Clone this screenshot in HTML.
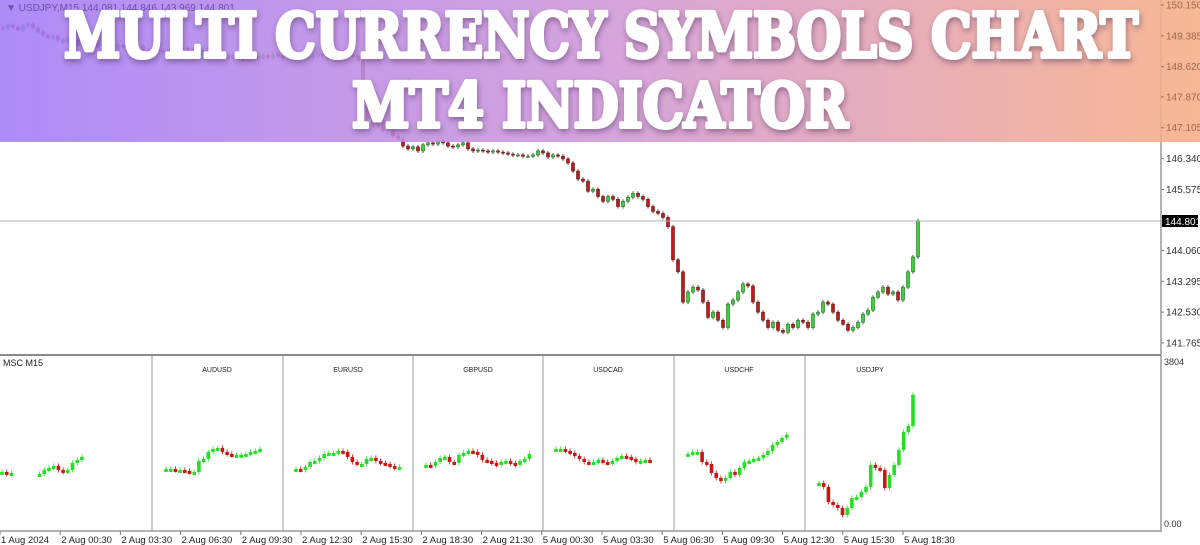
<!DOCTYPE html>
<html><head><meta charset="utf-8">
<style>
html,body{margin:0;padding:0;background:#fff;width:1200px;height:545px;overflow:hidden;font-family:"Liberation Sans",sans-serif}
svg{display:block}
</style></head>
<body>
<svg id="chart" width="1200" height="545" viewBox="0 0 1200 545" xmlns="http://www.w3.org/2000/svg">
<defs>
<linearGradient id="bannerGrad" x1="0" x2="1" y1="0" y2="0">
<stop offset="0" stop-color="#a37cf7"/>
<stop offset="0.5" stop-color="#cf98d8"/>
<stop offset="1" stop-color="#f7ae86"/>
</linearGradient>
<filter id="shadow" x="-5%" y="-20%" width="110%" height="140%">
<feDropShadow dx="1" dy="3" stdDeviation="3" flood-color="#402050" flood-opacity="0.45"/>
</filter>
</defs>
<rect x="0" y="0" width="1200" height="545" fill="#fff"/>
<g id="mainPlot"></g>
<line x1="0" y1="221" x2="1161" y2="221" stroke="#b0b0b0" stroke-width="1"/>
<g id="priceAxis"></g>
<rect x="1162" y="215" width="36" height="12" fill="#000"/>
<text x="1165" y="225" font-size="10" fill="#fff">144.801</text>
<line x1="1161" y1="0" x2="1161" y2="532" stroke="#9a9a9a" stroke-width="1.5"/>
<line x1="0" y1="355" x2="1161" y2="355" stroke="#8a8a8a" stroke-width="2"/>
<line x1="0" y1="531" x2="1161" y2="531" stroke="#9a9a9a" stroke-width="1.5"/>
<g id="sub"></g>
<text x="3" y="366" font-size="9" fill="#222">MSC M15</text>
<text x="1164" y="365" font-size="9" fill="#333">3804</text>
<text x="1164" y="527" font-size="9" fill="#333">0.00</text>
<g id="timeAxis"></g>
<g>
<rect x="0" y="0" width="1200" height="142" fill="url(#bannerGrad)" opacity="0.88"/>
<text x="6" y="11" font-size="10" fill="#6a4fa8">▼ USDJPY,M15  144.081 144.846 143.969 144.801</text>
<g id="bannerAxis"></g>
<text x="64" y="57" font-family="'DejaVu Serif',serif" font-weight="bold" font-size="62" fill="#fff" stroke="#fff" stroke-width="4" stroke-linejoin="round" textLength="1074" lengthAdjust="spacingAndGlyphs" filter="url(#shadow)">MULTI CURRENCY SYMBOLS CHART</text>
<text x="352" y="127" font-family="'DejaVu Serif',serif" font-weight="bold" font-size="62" fill="#fff" stroke="#fff" stroke-width="4" stroke-linejoin="round" textLength="496" lengthAdjust="spacingAndGlyphs" filter="url(#shadow)">MT4 INDICATOR</text>
</g>
</svg>
<script>
// ===== main chart data (USDJPY M15 closes) =====
const mainCloses = [
149.58,149.65,149.60,149.53,149.63,149.68,149.58,149.48,149.40,149.33,
149.38,149.28,149.23,149.33,149.28,149.15,149.20,149.28,149.23,149.13,
149.18,149.13,149.08,149.15,149.10,149.03,149.08,149.13,149.03,148.98,
149.08,149.03,148.98,149.03,148.93,148.98,149.08,149.03,148.98,148.90,
149.03,148.98,148.90,148.95,148.88,148.83,148.90,148.85,148.78,148.83,
148.88,148.83,148.90,148.85,148.93,148.88,148.83,148.90,148.85,148.88,
148.90,148.85,148.88,148.93,148.88,148.83,148.90,148.95,148.98,148.90,
148.88,148.78,147.78,147.33,147.15,147.28,147.03,147.08,146.90,146.83,
146.65,146.58,146.63,146.53,146.68,146.73,146.70,146.78,146.73,146.65,
146.63,146.68,146.73,146.58,146.53,146.55,146.53,146.50,146.53,146.50,
146.48,146.45,146.43,146.43,146.40,146.40,146.43,146.53,146.48,146.38,
146.43,146.40,146.33,146.23,146.03,145.83,145.78,145.53,145.58,145.40,
145.28,145.40,145.33,145.15,145.28,145.38,145.48,145.40,145.33,145.15,
145.03,144.98,144.88,144.65,143.83,143.53,142.78,143.03,143.15,143.08,
142.78,142.40,142.53,142.33,142.15,142.73,142.83,143.03,143.23,143.18,
142.78,142.53,142.33,142.15,142.28,142.08,142.03,142.23,142.15,142.33,
142.28,142.15,142.48,142.53,142.78,142.73,142.53,142.33,142.23,142.08,
142.15,142.28,142.48,142.58,142.90,143.03,143.15,142.98,143.03,142.83,
143.15,143.53,143.90,144.80];
const priceTicks = [150.150,149.385,148.620,147.870,147.105,146.340,145.575,144.060,143.295,142.530,141.765];
const timeLabels = ["1 Aug 2024","2 Aug 00:30","2 Aug 03:30","2 Aug 06:30","2 Aug 09:30","2 Aug 12:30","2 Aug 15:30","2 Aug 18:30","2 Aug 21:30","5 Aug 00:30","5 Aug 03:30","5 Aug 06:30","5 Aug 09:30","5 Aug 12:30","5 Aug 15:30","5 Aug 18:30"];
// ===== sub-window data (per symbol closes, scale 0..3804) =====
const panelNames = ["","AUDUSD","EURUSD","GBPUSD","USDCAD","USDCHF","USDJPY"];
const mscCloses = [1190,1142,1166,null,null,null,null,null,1142,1238,1285,1333,1238,1190,1238,1404,1476,1547];
const audusd = [1261,1261,1238,1238,1214,1190,1190,1452,1499,1666,1737,1761,1666,1618,1595,1595,1595,1618,1666,1690,1737];
const eurusd = [1261,1238,1309,1428,1452,1523,1618,1642,1642,1690,1666,1547,1428,1380,1380,1499,1523,1452,1404,1380,1333,1285,1309];
const gbpusd = [1357,1333,1428,1523,1547,1428,1404,1595,1642,1690,1666,1595,1476,1452,1404,1357,1428,1452,1404,1357,1452,1499,1618];
const usdcad = [1737,1737,1690,1642,1571,1499,1428,1404,1428,1476,1428,1404,1452,1523,1571,1547,1499,1428,1452,1476,1452];
const usdchf = [1618,1666,1666,1428,1380,1166,1047,976,1047,1190,1119,1285,1428,1452,1499,1523,1595,1690,1833,1904,1999,2071];
const usdjpy = [928,833,476,405,333,167,333,571,595,714,833,1357,1285,1238,809,1119,1357,1714,2142,2285,3023];
const subMax = 3804;

const NS = "http://www.w3.org/2000/svg";
function mk(tag, attrs, parent){const e=document.createElementNS(NS,tag);for(const k in attrs)e.setAttribute(k,attrs[k]);parent.appendChild(e);return e;}

const yPrice = p => 5 + (150.150 - p) * (338 / (150.150 - 141.765));
const xMain = i => 3 + i * 5;
const ySub = v => 522 - (v / subMax) * 160;

const mainG = document.getElementById('mainPlot');
const pad = 0.05;
for (let i = 0; i < mainCloses.length; i++) {
  const c = mainCloses[i];
  const o = i === 0 ? c : mainCloses[i-1];
  const hi = Math.max(o,c) + pad, lo = Math.min(o,c) - pad;
  const x = xMain(i);
  const up = c >= o;
  const w = mk('line',{x1:x,x2:x,y1:yPrice(hi),y2:yPrice(lo),stroke:'#555','stroke-width':1},mainG);
  
  
  const top = yPrice(Math.max(o,c)), bot = yPrice(Math.min(o,c));
  const b = mk('rect',{x:x-1.5,y:top,width:3,height:Math.max(1,bot-top),fill:up?'#3fcf3f':'#b82020',stroke:up?'#1f6f1f':'#6a1010','stroke-width':0.6},mainG);
  
  
}

const axG = document.getElementById('priceAxis');
const baxG = document.getElementById('bannerAxis');
priceTicks.forEach(p => {
  const y = yPrice(p);
  const g = y < 142 ? baxG : axG;
  const t = mk('text',{x:1166,y:y+3.5,'font-size':10,fill:y<142?'#a0664a':'#333'},g);
  t.textContent = p.toFixed(3);
  
  
  const tk = mk('line',{x1:1161,x2:1164,y1:y,y2:y,stroke:'#777'},g);
  
  
});

const subG = document.getElementById('sub');
const panelStarts = [0,152,283,413,543,674,805];
const panelData = [mscCloses,audusd,eurusd,gbpusd,usdcad,usdchf,usdjpy];
const panelOffsets = [2,14,13,13,13,14,14];
panelStarts.forEach((x0,pi) => {
  if (pi > 0) {
    const sep = mk('line',{x1:x0,x2:x0,y1:356,y2:531,stroke:'#999','stroke-width':1},subG);
    
    
    const lbl = mk('text',{x:x0+65,y:372,'font-size':7,'text-anchor':'middle',fill:'#222'},subG);
    lbl.textContent = panelNames[pi];
    
    
  }
  const d = panelData[pi];
  const spad = 60;
  for (let i = 0; i < d.length; i++) {
    const c = d[i];
    if (c === null) continue;
    const o = (i === 0 || d[i-1] === null) ? c : d[i-1];
    const x = x0 + panelOffsets[pi] + i * 4.7;
    const up = c >= o;
    const col = up ? '#22e022' : '#cc1515';
    const w = mk('line',{x1:x,x2:x,y1:ySub(Math.max(o,c)+spad),y2:ySub(Math.min(o,c)-spad),stroke:col,'stroke-width':0.8},subG);
    
    
    const top = ySub(Math.max(o,c)), bot = ySub(Math.min(o,c));
    const b = mk('rect',{x:x-1.8,y:top,width:3.6,height:Math.max(3,bot-top),fill:col},subG);
    
    
  }
});

const tG = document.getElementById('timeAxis');
timeLabels.forEach((s,i) => {
  const x = i * 60.2;
  const t = mk('text',{x:x+1,y:543,'font-size':9.5,fill:'#222'},tG);
  t.textContent = s;
  
  
  const tk = mk('line',{x1:x,x2:x,y1:531,y2:535,stroke:'#777'},tG);
  
  
});
</script>
</body></html>
